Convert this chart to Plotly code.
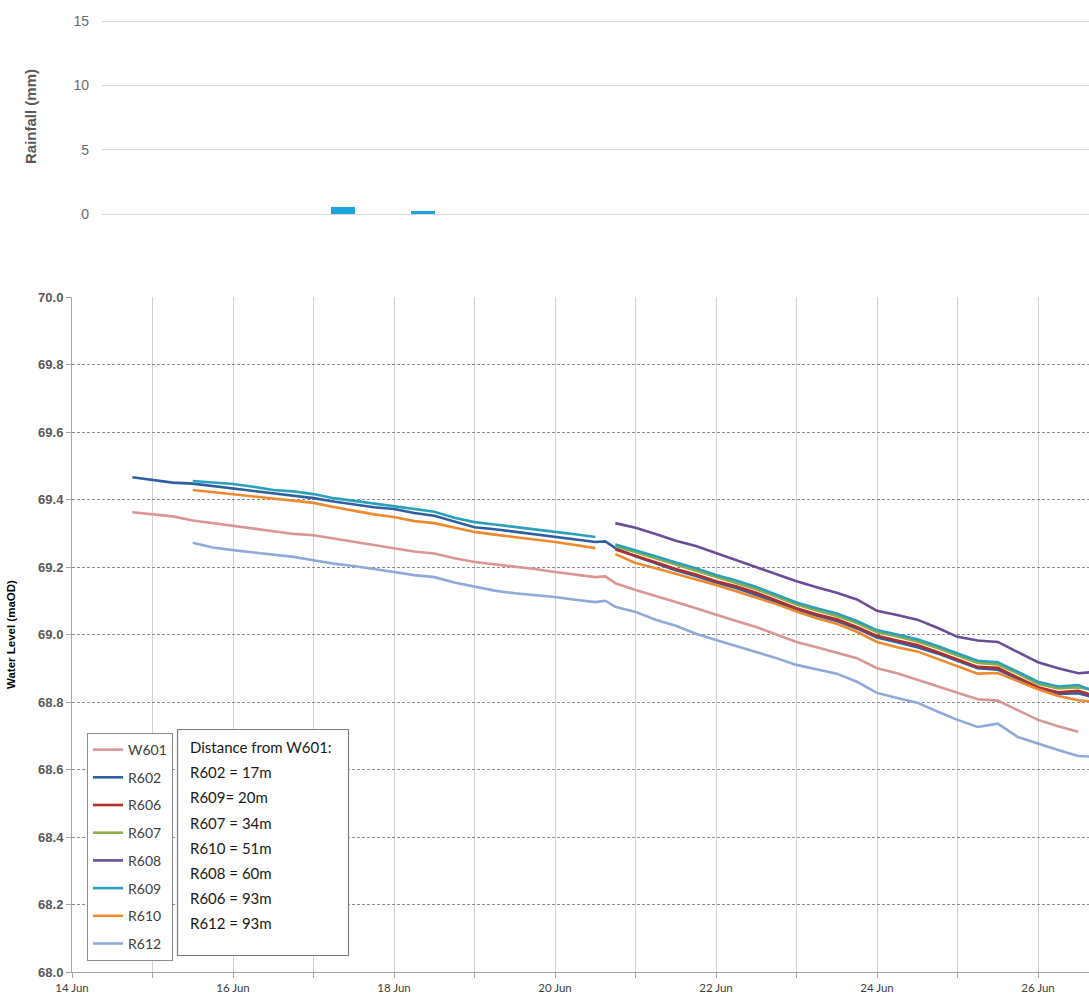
import plotly.graph_objects as go
from datetime import datetime, timedelta

W, H = 1089, 996

# Logger timestamps, as fractional June dates
DAY = [14.75, 15.0, 15.25, 15.5, 15.75, 16.0, 16.25, 16.5, 16.75, 17.0,
       17.25, 17.5, 17.75, 18.0, 18.25, 18.5, 18.75, 19.0, 19.25, 19.5,
       19.75, 20.0, 20.25, 20.5, 20.625, 20.75, 21.0, 21.25, 21.5, 21.75,
       22.0, 22.25, 22.5, 22.75, 23.0, 23.25, 23.5, 23.75, 24.0, 24.25,
       24.5, 24.75, 25.0, 25.25, 25.5, 25.75, 26.0, 26.25, 26.5, 26.75]

N = None
# Water levels (maOD) per borehole
W601 = [69.362, 69.357, 69.350, 69.338, 69.330, 69.320, 69.314, 69.306, 69.298, 69.294,
        69.284, 69.275, 69.266, 69.256, 69.246, 69.240, 69.226, 69.215, 69.208, 69.202,
        69.194, 69.185, 69.177, 69.170, 69.172, 69.152, 69.132, 69.113, 69.096, 69.078,
        69.058, 69.040, 69.022, 69.000, 68.978, 68.962, 68.946, 68.930, 68.900, 68.885,
        68.866, 68.846, 68.827, 68.808, 68.804, 68.775, 68.747, 68.728, 68.712, N]
R602 = [69.466, 69.458, 69.450, 69.447, 69.440, 69.434, 69.427, 69.420, 69.412, 69.404,
        69.394, 69.385, 69.377, 69.372, 69.360, 69.352, 69.335, 69.318, 69.312, 69.304,
        69.298, 69.290, 69.280, 69.274, 69.276, 69.256, 69.232, 69.210, 69.190, 69.173,
        69.154, 69.138, 69.117, 69.096, 69.072, 69.055, 69.040, 69.018, 68.991, 68.977,
        68.962, 68.944, 68.922, 68.900, 68.896, 68.869, 68.840, 68.824, 68.826, 68.810]
R606 = [N] * 25 + [
        69.252, 69.234, 69.214, 69.194, 69.178, 69.158, 69.143, 69.124, 69.101, 69.078,
        69.060, 69.045, 69.022, 68.996, 68.982, 68.969, 68.948, 68.927, 68.904, 68.901,
        68.873, 68.844, 68.829, 68.833, 68.815]
R607 = [N] * 25 + [
        69.262, 69.244, 69.226, 69.206, 69.190, 69.170, 69.153, 69.134, 69.112, 69.089,
        69.071, 69.055, 69.034, 69.007, 68.994, 68.979, 68.960, 68.939, 68.916, 68.911,
        68.884, 68.853, 68.840, 68.843, 68.835]
R608 = [N] * 25 + [
        69.330, 69.316, 69.298, 69.278, 69.262, 69.241, 69.222, 69.200, 69.178, 69.158,
        69.140, 69.124, 69.104, 69.070, 69.058, 69.044, 69.020, 68.993, 68.982, 68.978,
        68.948, 68.918, 68.900, 68.885, 68.890]
R609 = [N, N, N, 69.455, 69.450, 69.446, 69.438, 69.428, 69.424, 69.416,
        69.404, 69.396, 69.388, 69.378, 69.370, 69.364, 69.346, 69.333, 69.326, 69.318,
        69.311, 69.304, 69.297, 69.289, N, 69.267, 69.250, 69.232, 69.213, 69.196,
        69.176, 69.160, 69.141, 69.118, 69.095, 69.078, 69.062, 69.040, 69.013, 69.000,
        68.986, 68.966, 68.945, 68.922, 68.918, 68.890, 68.860, 68.846, 68.850, 68.827]
R610 = [N, N, N, 69.428, 69.422, 69.416, 69.410, 69.403, 69.396, 69.390,
        69.378, 69.366, 69.356, 69.348, 69.336, 69.330, 69.316, 69.304, 69.296, 69.289,
        69.282, 69.274, 69.265, 69.256, N, 69.238, 69.212, 69.196, 69.180, 69.162,
        69.147, 69.128, 69.110, 69.090, 69.068, 69.048, 69.032, 69.008, 68.978, 68.962,
        68.950, 68.928, 68.905, 68.884, 68.886, 68.862, 68.838, 68.818, 68.805, 68.800]
R612 = [N, N, N, 69.272, 69.258, 69.250, 69.244, 69.238, 69.230, 69.220,
        69.210, 69.203, 69.195, 69.185, 69.176, 69.170, 69.154, 69.141, 69.130, 69.122,
        69.117, 69.111, 69.103, 69.096, 69.100, 69.082, 69.067, 69.044, 69.026, 69.002,
        68.984, 68.966, 68.950, 68.930, 68.910, 68.898, 68.884, 68.860, 68.827, 68.812,
        68.798, 68.772, 68.747, 68.726, 68.736, 68.696, 68.676, 68.658, 68.640, 68.637]

SERIES_NAMES = ["W601", "R602", "R606", "R607", "R608", "R609", "R610", "R612"]
SERIES_VALUES = [W601, R602, R606, R607, R608, R609, R610, R612]
SERIES_COLORS = ["#D99694", "#2E5FA3", "#B02E2E", "#8DAE44",
                 "#6B4C9A", "#2CA0BA", "#EE8A2E", "#8FA9D9"]

# Rainfall totals
RAIN_DAY = [17.37, 18.36]
RAIN_MM = [0.57, 0.2]

# Date ticks along the water level axis
TICK_DAYS = list(range(14, 27))
TICK_TEXT = ["14 Jun", "", "16 Jun", "", "18 Jun", "", "20 Jun", "",
             "22 Jun", "", "24 Jun", "", "26 Jun"]

DISTANCE_LINES = ["Distance from W601:", "R602 = 17m", "R609= 20m", "R607 = 34m",
                  "R610 = 51m", "R608 = 60m", "R606 = 93m", "R612 = 93m"]


def to_time(d):
    return datetime(2014, 6, 1) + timedelta(days=d - 1)


times = [to_time(d) for d in DAY]

fig = go.Figure()

for name, vals, col in zip(SERIES_NAMES, SERIES_VALUES, SERIES_COLORS):
    fig.add_trace(go.Scatter(
        x=times, y=vals, name=name, mode="lines",
        line=dict(color=col, width=2.6),
        legendgroup=name, xaxis="x", yaxis="y",
    ))

fig.add_trace(go.Bar(
    x=[to_time(d) for d in RAIN_DAY], y=RAIN_MM,
    width=[0.3 * 86400000] * len(RAIN_DAY),
    marker=dict(color="#1AA6DC", line=dict(width=0)),
    showlegend=False, xaxis="x2", yaxis="y2",
))


def px_x(p):
    return p / W


def px_y(p):
    return 1 - p / H


x_end = 14 + (W - 72) / 80.5
# rainfall axis padded slightly so the 0 and 15 grid lines are drawn
rain_pad = 0.15
rain_px = 193 / 15

fig.update_layout(
    width=W, height=H,
    margin=dict(l=0, r=0, t=0, b=0),
    paper_bgcolor="white", plot_bgcolor="white",
    showlegend=True,
    xaxis=dict(
        type="date", domain=[px_x(72), 1], anchor="y",
        range=[to_time(14), to_time(x_end)],
        tickvals=[to_time(d) for d in TICK_DAYS], ticktext=TICK_TEXT,
        showgrid=True, gridcolor="#D2D2D2", gridwidth=1,
        showline=True, linecolor="#A6A6A6", linewidth=1,
        ticks="outside", ticklen=5, tickcolor="#A6A6A6",
        tickfont=dict(family="Lato", size=11.5, color="#404040"),
        zeroline=False, automargin=False,
    ),
    yaxis=dict(
        domain=[px_y(972), px_y(297)], anchor="x",
        range=[68, 70], dtick=0.2, tick0=68, tickformat=".1f",
        showgrid=True, gridcolor="#8C8C8C", gridwidth=1, griddash="3px,2px",
        showline=True, linecolor="#A6A6A6", linewidth=1,
        ticks="outside", ticklen=5, tickcolor="#A6A6A6",
        tickfont=dict(family="Liberation Sans", size=13, color="#595959", weight="bold"),
        zeroline=False, automargin=False,
    ),
    xaxis2=dict(
        type="date", domain=[px_x(102), 1], anchor="y2",
        range=[to_time(14 + 30 / 80.5), to_time(x_end)],
        showgrid=False, showticklabels=False, showline=False,
        ticks="", zeroline=False, automargin=False,
    ),
    yaxis2=dict(
        domain=[px_y(214 + rain_pad * rain_px), px_y(21 - rain_pad * rain_px)], anchor="x2",
        range=[-rain_pad, 15 + rain_pad], dtick=5, tick0=0,
        showgrid=True, gridcolor="#D9D9D9", gridwidth=1,
        showline=False, ticks="", ticklabelstandoff=12,
        tickfont=dict(family="Liberation Sans", size=14, color="#6A6A6A"),
        zeroline=False, automargin=False,
    ),
    legend=dict(
        x=px_x(87), y=px_y(733), xanchor="left", yanchor="top",
        bgcolor="white", bordercolor="#8C8C8C", borderwidth=1,
        font=dict(family="Lato", size=14, color="#404040"),
        tracegroupgap=6.5, itemwidth=30,
    ),
    bargap=0,
)

annotations = [
    dict(text="Water Level (maOD)", x=px_x(11), y=px_y(635), xref="paper", yref="paper",
         textangle=-90, showarrow=False, xanchor="center", yanchor="middle",
         font=dict(family="Liberation Sans", size=11.5, color="#000000", weight="bold")),
    dict(text="Rainfall (mm)", x=px_x(30), y=px_y(117), xref="paper", yref="paper",
         textangle=-90, showarrow=False, xanchor="center", yanchor="middle",
         font=dict(family="Liberation Sans", size=15, color="#595959", weight="bold")),
]
for i, line in enumerate(DISTANCE_LINES):
    annotations.append(dict(
        text=line, x=px_x(188), y=px_y(747 + i * 25.2), xref="paper", yref="paper",
        showarrow=False, xanchor="left", yanchor="middle",
        font=dict(family="Lato", size=15, color="#1A1A1A"),
    ))
fig.update_layout(annotations=annotations)

# frame around the distance notes
fig.add_shape(type="rect", xref="paper", yref="paper",
              x0=px_x(177.5), x1=px_x(348.5), y0=px_y(955.5), y1=px_y(729.5),
              line=dict(color="#7F7F7F", width=1.2), fillcolor="white", layer="above")

fig.write_html("out.html")
